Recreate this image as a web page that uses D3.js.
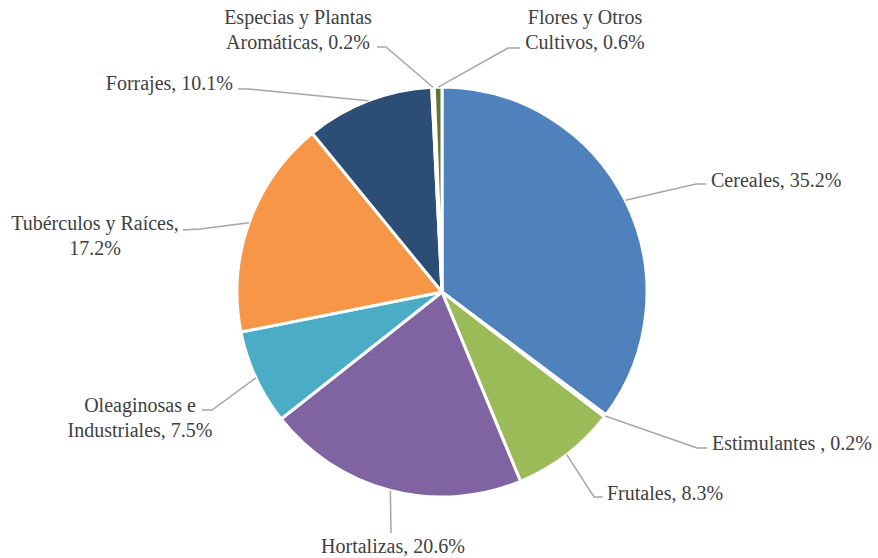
<!DOCTYPE html>
<html>
<head>
<meta charset="utf-8">
<script src="https://cdn.jsdelivr.net/npm/d3@7"></script>
</head>
<body style="margin:0;background:#ffffff">
<svg id="chart" width="878" height="558" style="display:block"></svg>
<script>
// ---- data ----
const categories = [
  "Cereales", "Estimulantes ", "Frutales", "Hortalizas",
  "Oleaginosas e Industriales", "Tubérculos y Raíces", "Forrajes",
  "Especias y Plantas Aromáticas", "Flores y Otros Cultivos"
];
const values = [35.2, 0.2, 8.3, 20.6, 7.5, 17.2, 10.1, 0.2, 0.6];
const valueLabels = ["35.2%", "0.2%", "8.3%", "20.6%", "7.5%", "17.2%", "10.1%", "0.2%", "0.6%"];
// how each label is broken into lines (text as it appears in the chart)
const labelLines = [
  ["Cereales, 35.2%"],
  ["Estimulantes , 0.2%"],
  ["Frutales, 8.3%"],
  ["Hortalizas, 20.6%"],
  ["Oleaginosas e", "Industriales, 7.5%"],
  ["Tubérculos y Raíces,", "17.2%"],
  ["Forrajes, 10.1%"],
  ["Especias y Plantas", "Aromáticas, 0.2%"],
  ["Flores y Otros", "Cultivos, 0.6%"]
];
const colors = ["#4F81BD", "#C0504D", "#9BBB59", "#8064A2", "#4BACC6",
                "#F79646", "#2C4D75", "#772C2A", "#5F7530"];

// ---- layout (label placement, as set by the original chart) ----
const labelLayout = [
  { elbow: [696, 184], end: [706, 184], tx: 711, ty: 187, anchor: "start" },
  { elbow: [697, 448], end: [707, 448], tx: 712, ty: 450, anchor: "start" },
  { elbow: [594, 497], end: [603, 497], tx: 607, ty: 500, anchor: "start" },
  { elbow: null,       end: [391, 533], tx: 393, ty: 553, anchor: "middle" },
  { elbow: [212, 410], end: [202, 410], tx: 140, ty: 412, anchor: "middle" },
  { elbow: [200, 229], end: [183, 230], tx: 95,  ty: 230, anchor: "middle" },
  { elbow: [248, 89],  end: [238, 89],  tx: 233, ty: 90,  anchor: "end" },
  { elbow: [386, 47],  end: [377, 47],  tx: 298, ty: 24,  anchor: "middle" },
  { elbow: [508, 48],  end: [520, 48],  tx: 585, ty: 24,  anchor: "middle" }
];

const cx = 442, cy = 292, radius = 205;
const lineHeight = 24.5;

const svg = d3.select("#chart");
const data = categories.map((c, i) => ({ name: c, value: values[i], i }));

const pie = d3.pie().sort(null).value(d => d.value);
const arcs = pie(data);
const arc = d3.arc().innerRadius(0).outerRadius(radius);

const g = svg.append("g").attr("transform", `translate(${cx},${cy})`);

g.selectAll("path.slice")
  .data(arcs)
  .enter().append("path")
  .attr("class", "slice")
  .attr("d", arc)
  .attr("fill", d => colors[d.data.i])
  .attr("stroke", "#ffffff")
  .attr("stroke-width", 3)
  .attr("stroke-linejoin", "round");

// leader lines: start on the pie edge at mid-angle
const edgeArc = d3.arc().innerRadius(radius).outerRadius(radius);
const leaders = svg.append("g");
arcs.forEach(a => {
  const L = labelLayout[a.data.i];
  const c = edgeArc.centroid(a);
  const start = [cx + c[0], cy + c[1]];
  const pts = [start];
  if (L.elbow) pts.push(L.elbow);
  pts.push(L.end);
  leaders.append("path")
    .attr("d", d3.line()(pts))
    .attr("fill", "none")
    .attr("stroke", "#A6A6A6")
    .attr("stroke-width", 1.5);
});

// labels
const labels = svg.append("g");
arcs.forEach(a => {
  const L = labelLayout[a.data.i];
  const t = labels.append("text")
    .style("font-family", '"Liberation Serif"')
    .style("font-size", "20px")
    .style("fill", "#404040")
    .attr("x", L.tx)
    .attr("y", L.ty)
    .attr("text-anchor", L.anchor);
  labelLines[a.data.i].forEach((line, k) => {
    t.append("tspan")
      .attr("x", L.tx)
      .attr("dy", k === 0 ? 0 : lineHeight)
      .text(line);
  });
});
</script>
</body>
</html>
